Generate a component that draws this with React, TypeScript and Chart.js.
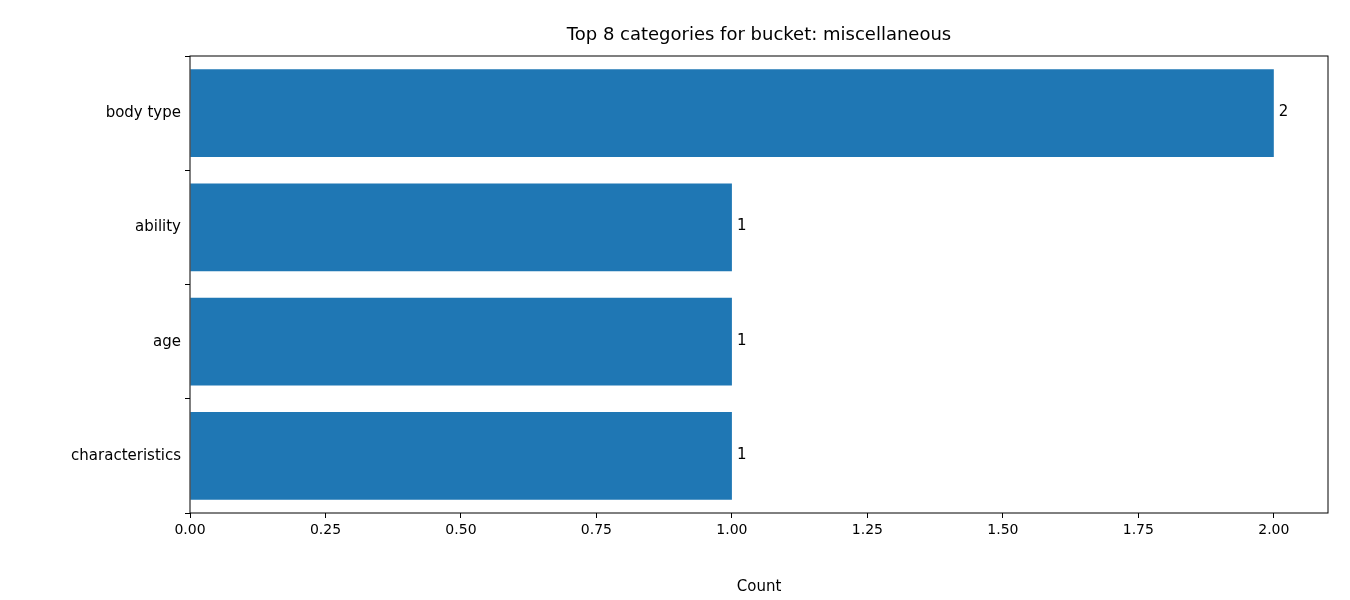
import Chart from 'chart.js/auto';
import React, { useEffect, useRef } from 'react';

const categories = ['body type', 'ability', 'age', 'characteristics'];
const counts = [2, 1, 1, 1];
const xTicks = [0, 0.25, 0.5, 0.75, 1, 1.25, 1.5, 1.75, 2];
const chartTitle = 'Top 8 categories for bucket: miscellaneous';

const FONT = '"DejaVu Sans", sans-serif';

const App: React.FC = () => {
  const ref = useRef<HTMLCanvasElement>(null);

  useEffect(() => {
    if (!ref.current) return;
    // 제목, 테두리, 값 라벨을 직접 그림
    const extras = {
      id: 'extras',
      afterDatasetsDraw(chart: any) {
        const { ctx, chartArea } = chart;
        ctx.save();
        ctx.strokeStyle = '#000';
        ctx.lineWidth = 1;
        ctx.strokeRect(chartArea.left, chartArea.top, chartArea.right - chartArea.left, chartArea.bottom - chartArea.top);
        ctx.fillStyle = '#000';
        ctx.font = `18px ${FONT}`;
        ctx.textAlign = 'center';
        ctx.textBaseline = 'middle';
        ctx.fillText(chartTitle, (chartArea.left + chartArea.right) / 2, 35);
        ctx.font = `15px ${FONT}`;
        ctx.textAlign = 'left';
        chart.getDatasetMeta(0).data.forEach((bar: any, i: number) => {
          ctx.fillText(String(counts[i]), bar.x + 5, bar.y - 1);
        });
        ctx.restore();
      },
    };
    const chart = new Chart(ref.current, {
      type: 'bar',
      data: {
        labels: categories,
        datasets: [{ data: counts, backgroundColor: '#1f77b4', barPercentage: 0.77, categoryPercentage: 1 }],
      },
      options: {
        indexAxis: 'y',
        animation: false,
        responsive: false,
        layout: { padding: { top: 56, right: 22, left: 0, bottom: 0 } },
        plugins: { legend: { display: false }, tooltip: { enabled: false } },
        scales: {
          x: {
            min: 0,
            max: 2.1,
            afterBuildTicks: (s: any) => {
              s.ticks = xTicks.map((v) => ({ value: v }));
            },
            afterFit: (s: any) => {
              s.height = 87;
            },
            border: { display: false },
            grid: { drawOnChartArea: false, color: '#000', tickLength: 5 },
            ticks: { color: '#000', font: { family: FONT, size: 14 }, callback: (v: any) => Number(v).toFixed(2), maxRotation: 0, padding: 4 },
            title: { display: true, text: 'Count', color: '#000', font: { family: FONT, size: 15 }, padding: { top: 4 } },
          },
          y: {
            afterFit: (s: any) => {
              s.width = 190;
            },
            border: { display: false },
            grid: { drawOnChartArea: false, color: '#000', tickLength: 5 },
            ticks: { color: '#000', font: { family: FONT, size: 15 }, padding: 4 },
          },
        },
      },
      plugins: [extras],
    });
    return () => chart.destroy();
  }, []);

  return (
    <div style={{ position: 'fixed', left: 0, top: 0, width: 1350, height: 600, background: '#fff' }}>
      <canvas ref={ref} width={1350} height={600} style={{ width: 1350, height: 600 }}></canvas>
    </div>
  );
};

export default App;
